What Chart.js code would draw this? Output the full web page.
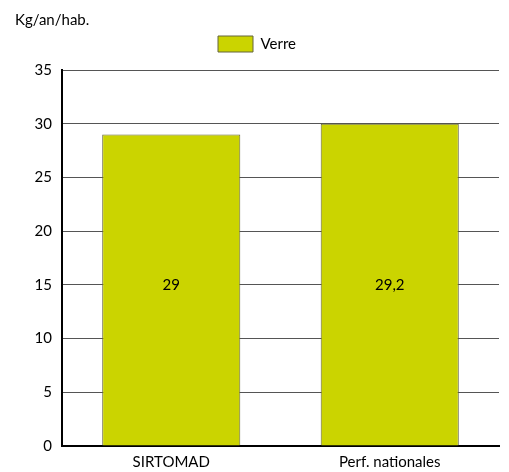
<!DOCTYPE html>
<html>
<head>
<meta charset="utf-8">
<script src="https://cdn.jsdelivr.net/npm/chart.js@4"></script>
<style>
  html, body { margin: 0; padding: 0; background: #fff; }
  #wrap { width: 509px; height: 472px; }
</style>
</head>
<body>
<div id="wrap"><canvas id="chartVerre"></canvas></div>
<script>
// Chart Js chartVerre

const categories = ['SIRTOMAD', 'Perf. nationales'];
const verre = [29, 30];
const verreLabels = ['29', '29,2'];
const yTicks = [0, 5, 10, 15, 20, 25, 30, 35];

// labels in the bars, all on one line at half the tallest bar
const barLabels = {
  id: 'barLabels',
  afterDatasetsDraw(chart) {
    const ctx = chart.ctx;
    const meta = chart.getDatasetMeta(0);
    const y = chart.scales.y.getPixelForValue(Math.max(...verre) / 2);
    ctx.save();
    ctx.font = '15px Lato';
    ctx.fillStyle = '#000';
    ctx.textAlign = 'center';
    ctx.textBaseline = 'middle';
    meta.data.forEach((bar, i) => {
      ctx.fillText(verreLabels[i], bar.x, y);
    });
    ctx.restore();
  }
};

// a bit more room under the legend
const legendGap = {
  id: 'legendGap',
  beforeInit(chart) {
    const fit = chart.legend.fit;
    chart.legend.fit = function () {
      fit.call(this);
      this.height += 8;
    };
  }
};

const ctx_verre = document.getElementById('chartVerre');

new Chart(ctx_verre, {
  type: 'bar',
  data: {
    labels: categories,
    datasets: [{
      label: 'Verre',
      data: verre,
      backgroundColor: 'rgb(203, 212, 0)',
      borderColor: 'rgb(100, 100, 60)',
      borderWidth: 1,
      categoryPercentage: 1,
      barPercentage: 0.632
    }]
  },
  options: {
    responsive: true,
    maintainAspectRatio: false,
    animation: false,
    layout: {
      padding: { left: 15, right: 10, top: 0, bottom: 0 }
    },
    scales: {
      y: {
        min: 0,
        max: 35,
        afterBuildTicks: (scale) => { scale.ticks = yTicks.map(v => ({ value: v })); },
        afterFit: (scale) => { scale.width = 47; },
        ticks: {
          color: '#000',
          padding: 10,
          font: { family: 'Lato', size: 15 }
        },
        grid: {
          color: '#555',
          lineWidth: 1,
          drawTicks: false
        },
        border: { color: '#000', width: 2 }
      },
      x: {
        afterFit: (scale) => { scale.height = 26; },
        ticks: {
          color: '#000',
          padding: 7,
          font: { family: 'Lato', size: 15 }
        },
        grid: { display: false, drawTicks: false },
        border: { color: '#000', width: 2 }
      }
    },
    plugins: {
      title: {
        display: true,
        text: 'Kg/an/hab.',
        align: 'start',
        color: '#000',
        font: { family: 'Lato', size: 15, weight: 'normal', lineHeight: 1 },
        padding: { top: 13, bottom: 0 }
      },
      legend: {
        display: true,
        position: 'top',
        labels: {
          color: '#000',
          boxWidth: 35,
          boxHeight: 16,
          font: { family: 'Lato', size: 15 },
          padding: 8
        }
      },
      tooltip: { enabled: false }
    }
  },
  plugins: [barLabels, legendGap]
});
</script>
</body>
</html>
